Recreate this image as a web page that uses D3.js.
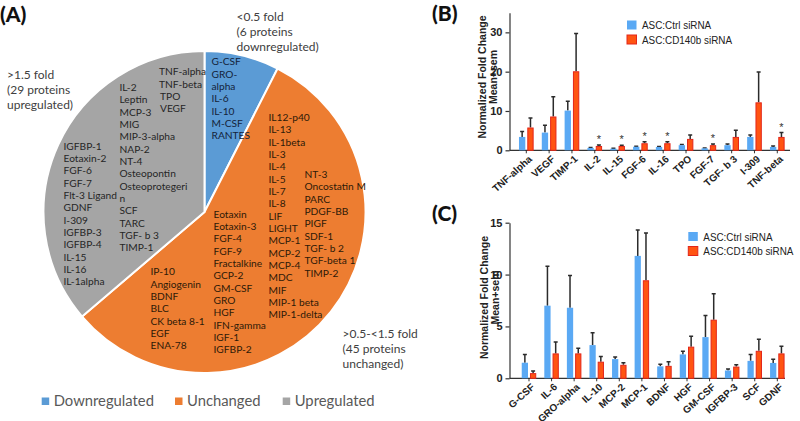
<!DOCTYPE html>
<html><head><meta charset="utf-8">
<script src="https://cdn.jsdelivr.net/npm/d3@7"></script>
<style>
html,body{margin:0;padding:0;background:#fff;}
svg{display:block;}
</style></head>
<body><svg id="c" width="800" height="421"></svg>
<script>
// ---------- Panel A data ----------
const pieCategories = ["Downregulated", "Unchanged", "Upregulated"];
const pieCounts = [6, 45, 29];
const pieColors = ["#5b9bd5", "#ed7d31", "#a5a5a5"];
const pieNotes = [
  ["<0.5 fold", "(6 proteins", "downregulated)"],
  [">0.5-<1.5 fold", "(45 proteins", "unchanged)"],
  [">1.5 fold", "(29 proteins", "upregulated)"]
];
const downList = ["G-CSF", "GRO-", "alpha", "IL-6", "IL-10", "M-CSF", "RANTES"];
const unchList1 = ["IL12-p40", "IL-13", "IL-1beta", "IL-3", "IL-4", "IL-5", "IL-7", "IL-8", "LIF", "LIGHT", "MCP-1", "MCP-2", "MCP-4", "MDC", "MIF", "MIP-1 beta", "MIP-1-delta"];
const unchList2 = ["NT-3", "Oncostatin M", "PARC", "PDGF-BB", "PIGF", "SDF-1", "TGF- b 2", "TGF-beta 1", "TIMP-2"];
const unchList3 = ["Eotaxin", "Eotaxin-3", "FGF-4", "FGF-9", "Fractalkine", "GCP-2", "GM-CSF", "GRO", "HGF", "IFN-gamma", "IGF-1", "IGFBP-2"];
const unchList4 = ["IP-10", "Angiogenin", "BDNF", "BLC", "CK beta 8-1", "EGF", "ENA-78"];
const upList1 = ["TNF-alpha", "TNF-beta", "TPO", "VEGF"];
const upList2 = ["IL-2", "Leptin", "MCP-3", "MIG", "MIP-3-alpha", "NAP-2", "NT-4", "Osteopontin", "Osteoprotegeri", "n", "SCF", "TARC", "TGF- b 3", "TIMP-1"];
const upList3 = ["IGFBP-1", "Eotaxin-2", "FGF-6", "FGF-7", "Flt-3 Ligand", "GDNF", "I-309", "IGFBP-3", "IGFBP-4", "IL-15", "IL-16", "IL-1alpha"];

// ---------- Panel B data ----------
const seriesNames = ["ASC:Ctrl siRNA", "ASC:CD140b siRNA"];
const bCategories = ["TNF-alpha", "VEGF", "TIMP-1", "IL-2", "IL-15", "FGF-6", "IL-16", "TPO", "FGF-7", "TGF- b 3", "I-309", "TNF-beta"];
const bCtrl    = [3.4, 4.5, 10.1, 0.6, 0.4, 0.9, 0.85, 1.3, 0.5, 1.3, 3.4, 0.85];
const bCtrlSem = [1.4, 1.9, 2.4, 0.1, 0.1, 0.1, 0.1, 0.2, 0.1, 0.3, 0.5, 0.25];
const bCd      = [5.8, 8.6, 20.1, 1.1, 1.1, 1.8, 1.8, 2.9, 1.3, 3.4, 12.2, 3.4];
const bCdSem   = [2.4, 5.0, 9.6, 0.25, 0.2, 0.4, 0.4, 1.0, 0.3, 1.7, 7.7, 1.1];
const bSignif  = [false, false, false, true, true, true, true, false, true, false, false, true];
const bTicks = [0, 10, 20, 30];

// ---------- Panel C data ----------
const cCategories = ["G-CSF", "IL-6", "GRO-alpha", "IL-10", "MCP-2", "MCP-1", "BDNF", "HGF", "GM-CSF", "IGFBP-3", "SCF", "GDNF"];
const cCtrl    = [1.5, 7.0, 6.8, 3.2, 1.85, 11.8, 1.15, 2.3, 3.97, 0.75, 1.68, 1.48];
const cCtrlSem = [0.8, 3.8, 3.1, 1.2, 0.2, 2.5, 0.2, 0.3, 2.08, 0.15, 0.62, 0.36];
const cCd      = [0.5, 2.4, 2.4, 1.6, 1.3, 9.45, 1.2, 3.05, 5.65, 1.13, 2.65, 2.4];
const cCdSem   = [0.2, 1.1, 0.5, 0.5, 0.2, 4.55, 0.4, 1.0, 2.5, 0.17, 1.12, 0.7];
const cTicks = [0, 5, 10, 15];

const svg = d3.select("#c");
const pieFont = "Lato, 'Open Sans', sans-serif";
const arial = "'Liberation Sans', Arial, sans-serif";

// ================= Panel A =================
const cx = 204.5, cy = 212, R = 161;
const gA = svg.append("g");
gA.append("text").attr("x", 0).attr("y", 22).text("(A)")
  .attr("font-family", pieFont).attr("font-weight", 900).attr("font-size", 21).attr("fill", "#111");

const pieData = d3.pie().sort(null).value(d => d.v)(pieCategories.map((c, i) => ({c, v: pieCounts[i]})));
const arc = d3.arc().innerRadius(0).outerRadius(R);
gA.append("g").attr("transform", `translate(${cx},${cy})`)
  .selectAll("path").data(pieData).join("path")
  .attr("d", arc).attr("fill", (d, i) => pieColors[i])
  .attr("stroke", "#fff").attr("stroke-width", 2).attr("stroke-linejoin", "round");

const LH = 12.35;
function column(list, x, y0, color) {
  gA.append("g").selectAll("text").data(list).join("text")
    .attr("x", cx + x).attr("y", (d, i) => cy + y0 + i * LH)
    .attr("dy", "0.35em")
    .attr("font-family", pieFont).attr("font-size", 10.2).attr("fill", color)
    .text(d => d);
}
column(downList, 7, -150.3, "#14233a");
column(unchList1, 64, -94.7, "#2e1a08");
column(unchList2, 100, -37.7, "#2e1a08");
column(unchList3, 9, 2, "#2e1a08");
column(unchList4, -54, 59.7, "#2e1a08");
column(upList1.slice(0, 2), -45.5, -140.3, "#262626");
column(upList1.slice(2), -44.5, -115.5, "#262626");
column(upList2, -85, -124.7, "#262626");
column(upList3, -141, -66, "#262626");

function note(lines, x, y0) {
  gA.append("g").selectAll("text").data(lines).join("text")
    .attr("x", x).attr("y", (d, i) => y0 + i * 15)
    .attr("dy", "0.35em")
    .attr("font-family", pieFont).attr("font-size", 12).attr("fill", "#404040")
    .text(d => d);
}
note(pieNotes[0], 236.5, 16.7);
note(pieNotes[1], 342.5, 334);
note(pieNotes[2], 7, 75);

// legend
const legX = [41.7, 175, 282.7];
const lg = gA.append("g").selectAll("g").data(pieCategories).join("g")
  .attr("transform", (d, i) => `translate(${legX[i]},401)`);
lg.append("rect").attr("x", 0).attr("y", -3.5).attr("width", 7.5).attr("height", 7.5).attr("fill", (d, i) => pieColors[i]);
lg.append("text").attr("x", 12).attr("dy", "0.35em")
  .attr("font-family", pieFont).attr("font-size", 14.8).attr("fill", "#595959").text(d => d);

// ================= Bar panels =================
const blue = "#5aa9f4", orange = "#ff5412", orangeStroke = "#e3261a";

function barPanel(opt) {
  const g = svg.append("g");
  const y = d3.scaleLinear().domain([0, opt.ymax]).range([opt.y0, opt.yTop]);
  const x0 = d3.scaleBand().domain(opt.cats).range(opt.xr);
  const x1 = d3.scaleBand().domain(seriesNames).range([0, x0.bandwidth()]).paddingInner(0.24).paddingOuter(0.49);

  // panel label
  g.append("text").attr("x", opt.labelX).attr("y", opt.labelY).text(opt.label)
    .attr("font-family", pieFont).attr("font-weight", 900).attr("font-size", 21).attr("fill", "#111");

  // y axis
  const ya = g.append("g").attr("transform", `translate(${opt.axisX},0)`)
    .call(d3.axisLeft(y).tickValues(opt.ticks).tickSize(4).tickPadding(3).tickSizeOuter(0));
  ya.select(".domain").attr("stroke", "#333").attr("stroke-width", 1.2);
  ya.selectAll(".tick line").attr("stroke", "#333").attr("stroke-width", 1.2);
  ya.selectAll(".tick text").attr("font-family", arial).attr("font-weight", "bold").attr("font-size", 11).attr("fill", "#222");

  // x axis
  const xa = g.append("g").attr("transform", `translate(0,${opt.y0})`)
    .call(d3.axisBottom(x0).tickSize(3).tickSizeOuter(0).tickFormat(""));
  xa.select(".domain").attr("stroke", "#333").attr("stroke-width", 1.2).attr("d", `M${opt.axisX},0H${opt.xEnd}`);
  xa.selectAll(".tick line").attr("stroke", "#333").attr("stroke-width", 1);
  g.append("g").selectAll("text").data(opt.cats).join("text")
    .attr("transform", d => `translate(${x0(d) + x0.bandwidth() / 2 + 4},${opt.y0 + 7}) rotate(-42)`)
    .attr("text-anchor", "end").attr("dy", "0.35em")
    .attr("font-family", arial).attr("font-weight", "bold").attr("font-size", 10).attr("fill", "#222")
    .text(d => d);

  // y label (two lines, rotated)
  const ylab = ["Normalized Fold Change", "Mean+sem"];
  g.append("g").selectAll("text").data(ylab).join("text")
    .attr("transform", (d, i) => `translate(${opt.ylabX + i * 11.5},${opt.ylabY}) rotate(-90)`)
    .attr("text-anchor", "middle")
    .attr("font-family", arial).attr("font-weight", "bold").attr("font-size", 10.5).attr("fill", "#222").text(d => d);

  const rows = opt.cats.map((c, i) => ({
    c, vals: [
      {s: seriesNames[0], m: opt.ctrl[i], e: opt.ctrlSem[i]},
      {s: seriesNames[1], m: opt.cd[i], e: opt.cdSem[i]}
    ], sig: opt.sig ? opt.sig[i] : false
  }));
  const grp = g.append("g").selectAll("g").data(rows).join("g")
    .attr("transform", d => `translate(${x0(d.c)},0)`);
  // error bars
  grp.selectAll("path.err").data(d => d.vals).join("path").attr("class", "err")
    .attr("d", d => {
      const xc = x1(d.s) + x1.bandwidth() / 2;
      const yt = y(d.m + d.e);
      return `M${xc},${y(d.m)}V${yt}M${xc - 2},${yt}H${xc + 2}`;
    })
    .attr("stroke", "#2b2b2b").attr("stroke-width", 1.5).attr("fill", "none");
  grp.selectAll("rect").data(d => d.vals).join("rect")
    .attr("x", d => x1(d.s) + (d.s === seriesNames[1] ? 0.5 : 0))
    .attr("width", d => x1.bandwidth() - (d.s === seriesNames[1] ? 1 : 0))
    .attr("y", d => y(d.m) + (d.s === seriesNames[1] ? 0.5 : 0))
    .attr("height", d => Math.max(0, opt.y0 - y(d.m) - (d.s === seriesNames[1] ? 0.5 : 0)))
    .attr("fill", d => d.s === seriesNames[0] ? blue : orange)
    .attr("stroke", d => d.s === seriesNames[0] ? "none" : orangeStroke)
    .attr("stroke-width", 1);
  // significance stars
  grp.filter(d => d.sig).append("text")
    .attr("x", d => x1(seriesNames[1]) + x1.bandwidth() / 2)
    .attr("y", d => y(d.vals[1].m + d.vals[1].e) - 2)
    .attr("text-anchor", "middle")
    .attr("font-family", arial).attr("font-size", 11).attr("fill", "#333").text("*");

  // legend
  const lgd = g.append("g").selectAll("g").data(seriesNames).join("g")
    .attr("transform", (d, i) => `translate(${opt.legX},${opt.legY + i * 14.5})`);
  lgd.append("rect").attr("x", 0).attr("y", -8.5).attr("width", 9.5).attr("height", 9)
    .attr("fill", (d, i) => i === 0 ? blue : orange)
    .attr("stroke", (d, i) => i === 0 ? "none" : orangeStroke);
  lgd.append("text").attr("transform", "translate(15,0) scale(0.86,1)")
    .attr("font-family", arial).attr("font-size", 11.5).attr("fill", "#222").text(d => d);
}

barPanel({
  label: "(B)", labelX: 432, labelY: 21,
  cats: bCategories, ctrl: bCtrl, ctrlSem: bCtrlSem, cd: bCd, cdSem: bCdSem, sig: bSignif,
  ymax: 35, y0: 150.3, yTop: 12.7, ticks: bTicks, axisX: 509.5, xEnd: 790,
  xr: [514.9, 788.7],
  ylabX: 485.5, ylabY: 77,
  legX: 627, legY: 29
});
barPanel({
  label: "(C)", labelX: 432, labelY: 221,
  cats: cCategories, ctrl: cCtrl, ctrlSem: cCtrlSem, cd: cCd, cdSem: cCdSem, sig: null,
  ymax: 15, y0: 378.3, yTop: 222.7, ticks: cTicks, axisX: 509.5, xEnd: 785,
  xr: [517.7, 788.6],
  ylabX: 487.5, ylabY: 297.5,
  legX: 688.3, legY: 240.5
});
</script></body></html>
